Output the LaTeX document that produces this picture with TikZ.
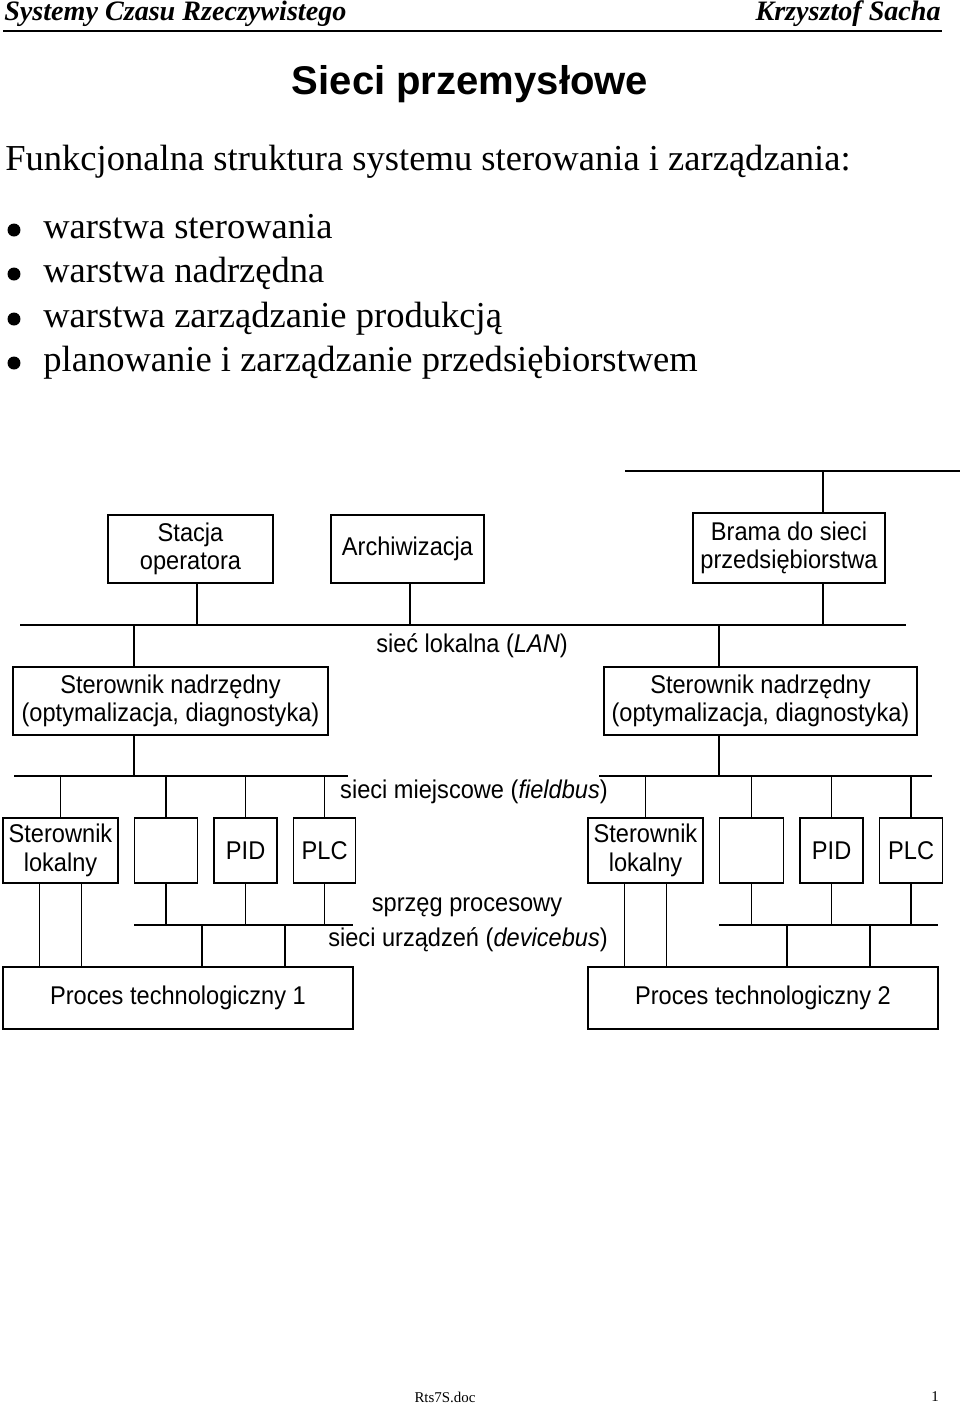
\documentclass[tikz,border=0pt]{standalone}
\usepackage{fontspec}
\setmainfont{Liberation Serif}
\setsansfont{Liberation Sans}
\newfontfamily\netfont[FakeStretch=0.92]{Liberation Sans}
\usetikzlibrary{positioning}
\tikzset{
    unit/.style={rectangle, draw=black, line width=0.9pt, align=center, inner sep=1pt, text centered},
    busline/.style={line width=1.4pt},
    tapline/.style={line width=0.9pt},
    netlabel/.style={inner sep=0pt, align=center},
    pagetext/.style={inner sep=0pt, font=\rmfamily\fontsize{20.8}{24}\selectfont},
}

\begin{document}
\begin{tikzpicture}[x=0.02cm, y=-0.02cm, font=\netfont\fontsize{14.6}{16.2}\selectfont]
    \useasboundingbox (0,0) rectangle (960,1407);
    % naglowek strony
    \node[anchor=west, inner sep=0pt, font=\rmfamily\bfseries\itshape\fontsize{16}{18}\selectfont] (hleft) at (4,14) {Systemy Czasu Rzeczywistego};
    \node[anchor=east, inner sep=0pt, font=\rmfamily\bfseries\itshape\fontsize{16}{18}\selectfont] (hright) at (941,14) {Krzysztof Sacha};
    \draw[line width=0.8pt] (3,31) -- (942,31);
    \node[anchor=base, inner sep=0pt, font=\sffamily\bfseries\fontsize{22.8}{26}\selectfont] (title) at (470,94) {Sieci przemysłowe};
    \node[pagetext, anchor=base west] (intro) at (5,170) {Funkcjonalna struktura systemu sterowania i zarządzania:};
    \foreach \y/\t in {238/warstwa sterowania, 282/warstwa nadrzędna, 327/warstwa zarządzanie produkcją, 371/planowanie i zarządzanie przedsiębiorstwem}{
        \fill (14,\y-8) circle (0.13cm);
        \node[pagetext, anchor=base west] at (43,\y) {\t};
    }

    % szyny
    \coordinate (topL) at (625,471);  \coordinate (topR) at (960,471);
    \coordinate (lanL) at (20,625);   \coordinate (lanR) at (906,625);
    \coordinate (fbL1) at (14,776);   \coordinate (fbR1) at (348,776);
    \coordinate (fbL2) at (599,776);  \coordinate (fbR2) at (932,776);
    \coordinate (dbL1) at (134,925);  \coordinate (dbR1) at (353,925);
    \coordinate (dbL2) at (719,925);  \coordinate (dbR2) at (938,925);
    \foreach \a/\b in {topL/topR, lanL/lanR, fbL1/fbR1, fbL2/fbR2, dbL1/dbR1, dbL2/dbR2}
        \draw[busline] (\a) -- (\b);

    % warstwa nadrzedna
    \node[unit, minimum width=3.3cm, minimum height=1.36cm] (stacja) at (190.5,549) {Stacja\\operatora};
    \node[unit, minimum width=3.06cm, minimum height=1.36cm] (arch) at (407.5,549) {Archiwizacja};
    \node[unit, minimum width=3.84cm, minimum height=1.4cm] (brama) at (789,548) {Brama do sieci\\przedsiębiorstwa};
    \node[unit, minimum width=6.3cm, minimum height=1.36cm] (nadrz1) at (170.5,701) {Sterownik nadrzędny\\(optymalizacja, diagnostyka)};
    \node[unit, minimum width=6.26cm, minimum height=1.36cm] (nadrz2) at (760.5,701) {Sterownik nadrzędny\\(optymalizacja, diagnostyka)};

    \draw[tapline] ([xshift=0.68cm]brama.north) -- ([xshift=0.68cm]brama.north |- topL);
    \draw[tapline] ([xshift=0.68cm]brama.south) -- ([xshift=0.68cm]brama.south |- lanL);
    \draw[tapline] ([xshift=0.13cm]stacja.south) -- ([xshift=0.13cm]stacja.south |- lanL);
    \draw[tapline] ([xshift=0.05cm]arch.south) -- ([xshift=0.05cm]arch.south |- lanL);
    \draw[tapline] ([xshift=-0.73cm]nadrz1.north) -- ([xshift=-0.73cm]nadrz1.north |- lanL);
    \draw[tapline] ([xshift=-0.73cm]nadrz1.south) -- ([xshift=-0.73cm]nadrz1.south |- fbL1);
    \draw[tapline] ([xshift=-0.83cm]nadrz2.north) -- ([xshift=-0.83cm]nadrz2.north |- lanL);
    \draw[tapline] ([xshift=-0.83cm]nadrz2.south) -- ([xshift=-0.83cm]nadrz2.south |- fbL2);

    \node[netlabel] (lan) at (472,646) {sieć lokalna (\textit{LAN})};

    % warstwa sterowania
    \node[unit, minimum width=2.3cm, minimum height=1.3cm] (sl1) at (60.5,850.5) {Sterownik\\lokalny};
    \node[unit, minimum width=1.26cm, minimum height=1.3cm, right=0.3cm of sl1] (e1) {};
    \node[unit, minimum width=1.26cm, minimum height=1.3cm, right=0.3cm of e1] (pid1) {PID};
    \node[unit, minimum width=1.24cm, minimum height=1.3cm, right=0.3cm of pid1] (plc1) {PLC};
    \node[unit, minimum width=2.3cm, minimum height=1.3cm] (sl2) at (645.5,850.5) {Sterownik\\lokalny};
    \node[unit, minimum width=1.28cm, minimum height=1.3cm, right=0.3cm of sl2] (e2) {};
    \node[unit, minimum width=1.26cm, minimum height=1.3cm, right=0.3cm of e2] (pid2) {PID};
    \node[unit, minimum width=1.26cm, minimum height=1.3cm, right=0.3cm of pid2] (plc2) {PLC};
    \node[unit, minimum width=7cm, minimum height=1.24cm] (proc1) at (178,998) {Proces technologiczny 1};
    \node[unit, minimum width=7cm, minimum height=1.24cm] (proc2) at (763,998) {Proces technologiczny 2};

    \foreach \n in {sl1, e1, pid1, plc1}
        \draw[tapline] (\n.north) -- (\n.north |- fbL1);
    \foreach \n in {sl2, e2, pid2, plc2}
        \draw[tapline] (\n.north) -- (\n.north |- fbL2);
    \foreach \n in {e1, pid1, plc1}
        \draw[tapline] (\n.south) -- (\n.south |- dbL1);
    \foreach \n in {e2, pid2, plc2}
        \draw[tapline] (\n.south) -- (\n.south |- dbL2);
    \foreach \s in {-0.42cm, 0.42cm}{
        \draw[tapline] ([xshift=\s]sl1.south) -- ([xshift=\s]sl1.south |- proc1.north);
        \draw[tapline] ([xshift=\s]sl2.south) -- ([xshift=\s]sl2.south |- proc2.north);
    }
    \foreach \s in {0.48cm, 2.14cm}{
        \draw[tapline] ([xshift=\s]proc1.north) -- ([xshift=\s]proc1.north |- dbL1);
        \draw[tapline] ([xshift=\s]proc2.north) -- ([xshift=\s]proc2.north |- dbL2);
    }

    \node[netlabel] (field) at (474,792) {sieci miejscowe (\textit{fieldbus})};
    \node[netlabel] (sprzeg) at (467,907) {sprzęg procesowy};
    \node[netlabel] (device) at (468,940) {sieci urządzeń (\textit{devicebus})};

    % stopka
    \node[inner sep=0pt, font=\rmfamily\fontsize{8.5}{10}\selectfont] (doc) at (445,1397) {Rts7S.doc};
    \node[inner sep=0pt, font=\rmfamily\fontsize{8.5}{10}\selectfont] (page) at (935,1397) {1};
\end{tikzpicture}
\end{document}
